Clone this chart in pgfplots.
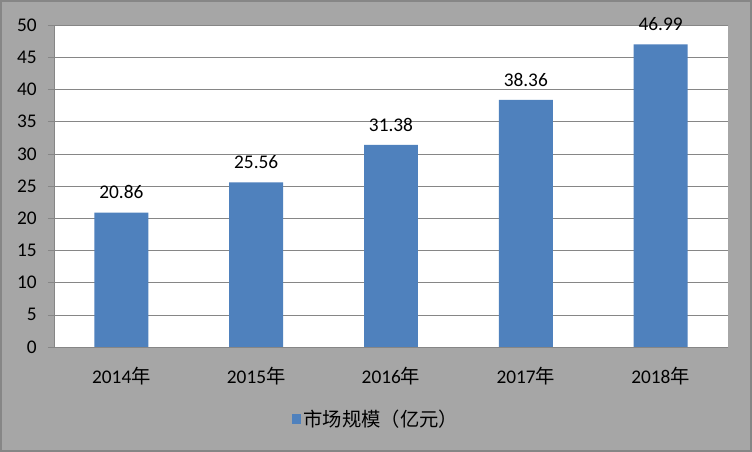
\documentclass[border=0pt]{standalone}
\usepackage{pgfplots}
\pgfplotsset{compat=1.18}
\usepackage{fontspec}
\setmainfont{Carlito}
\newfontfamily\cjk{Noto Sans CJK SC}
\definecolor{bgray}{HTML}{A6A6A6}
\definecolor{bdgray}{HTML}{868686}
\definecolor{lgray}{HTML}{868686}
\definecolor{barblue}{HTML}{4F81BD}
\begin{document}
\begin{tikzpicture}
\fill[bgray] (0,0) rectangle (564pt,339pt);
\draw[bdgray, line width=1.5pt] (0.75pt,0.75pt) rectangle (563.25pt,338.25pt);
\begin{axis}[
  at={(40.5pt,78.75pt)}, anchor=south west,
  scale only axis, width=505.5pt, height=241.5pt,
  axis background/.style={fill=white},
  xmin=-0.5, xmax=4.5, ymin=0, ymax=50,
  ytick={0,5,...,50},
  xtick={0,1,2,3,4},
  xticklabels={2014{\cjk 年},2015{\cjk 年},2016{\cjk 年},2017{\cjk 年},2018{\cjk 年}},
  x tick style={draw=none},
  extra x ticks={-0.5,0.5,1.5,2.5,3.5,4.5},
  extra x tick labels={},
  extra x tick style={tick style={draw=lgray, thin}, major tick length=4.5pt, grid=none},
  y tick style={draw=lgray, thin},
  major tick length=4.5pt,
  tick align=outside,
  ymajorgrids, grid style={lgray, thin},
  axis x line*=bottom, axis y line*=left,
  axis line style={lgray, thin, -},
  /pgf/number format/assume math mode=true,
  tick label style={font=\fontsize{14.5}{16}\selectfont, text=black},
  yticklabel style={xshift=-5pt},
  xticklabel style={yshift=-7pt},
  ybar, bar width=0.4,
  nodes near coords,
  nodes near coords style={font=\fontsize{14.5}{16}\selectfont, text=black, anchor=south, inner sep=0pt, yshift=10pt, /pgf/number format/.cd, fixed, fixed zerofill, precision=2},
  legend style={at={(0.478,-0.2236)}, anchor=center, draw=none, fill=none, font=\fontsize{14.5}{16}\selectfont\cjk, /tikz/every even column/.append style={column sep=2pt}},
  legend image code/.code={\fill[barblue] (0pt,-3.5pt) rectangle (7pt,3.5pt);},
]
\addplot[fill=barblue, draw=none] coordinates {(0,20.86) (1,25.56) (2,31.38) (3,38.36) (4,46.99)};
\addlegendentry{市场规模（亿元）}
\end{axis}
\end{tikzpicture}
\end{document}
